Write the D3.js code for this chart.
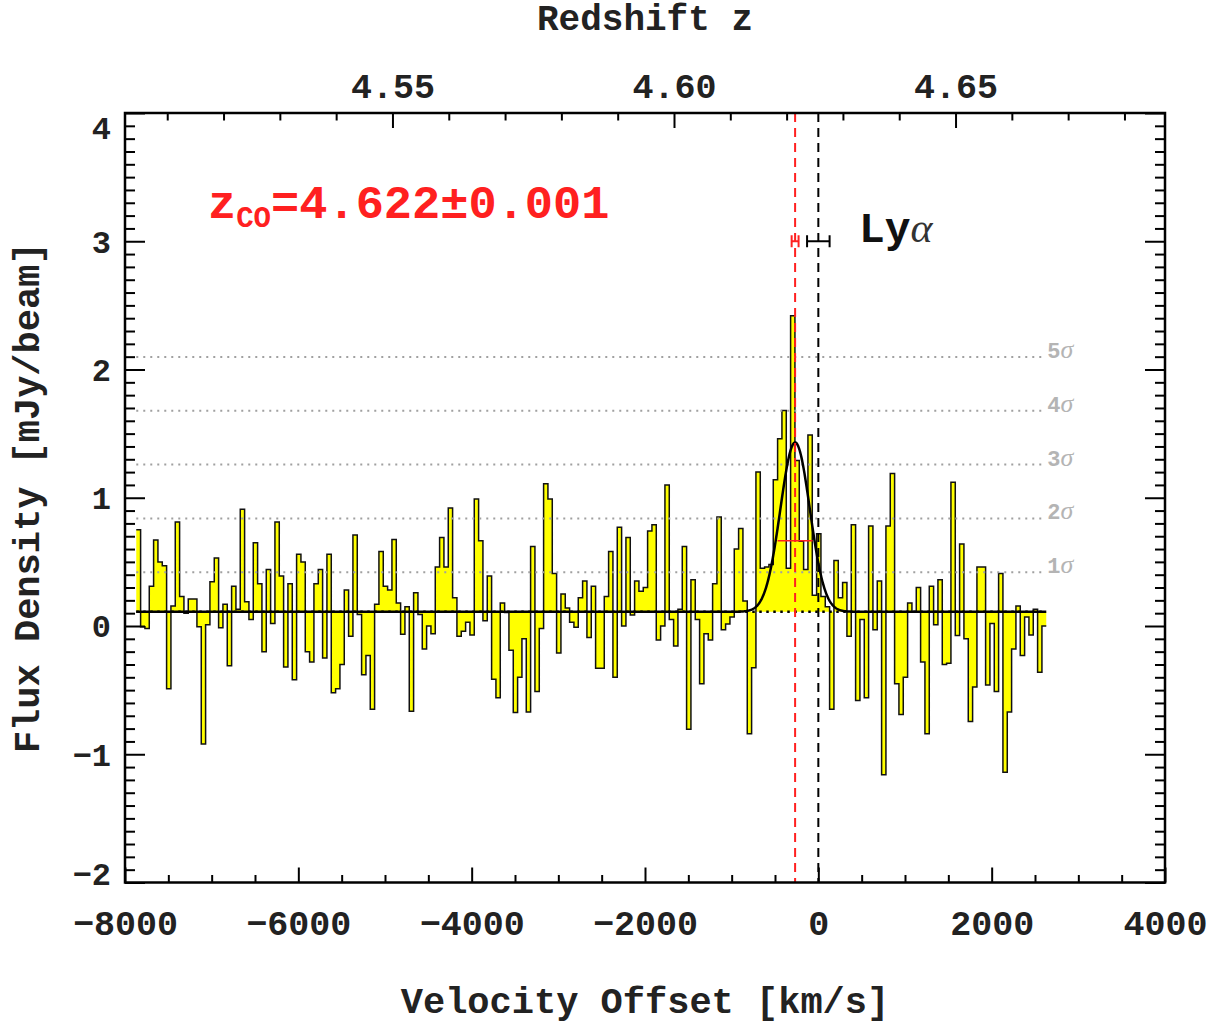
<!DOCTYPE html>
<html>
<head>
<meta charset="utf-8">
<script src="https://cdn.jsdelivr.net/npm/d3@7"></script>
<style>
  html, body { margin: 0; padding: 0; background: #fff; }
  svg { display: block; }
</style>
</head>
<body>
<svg id="chart" width="1226" height="1026"></svg>
<script>
// ---------------- DATA ----------------
// spectrum: flux density (mJy/beam) per 50 km/s channel
const binStart = -7870;      // km/s, left edge of first channel
const binWidth = 50;         // km/s
const flux = [
  0.75,-0.005,-0.02,0.31,0.67,0.50,0.47,-0.49,0.156,0.81,
  0.23,0.10,0.21,0.21,-0.005,-0.92,0.01,0.345,0.53,-0.013,
  0.17,-0.31,0.31,0.13,0.91,0.19,0.05,0.65,0.33,-0.20,
  0.44,0.02,0.81,0.39,-0.32,0.33,-0.42,0.56,0.50,-0.20,
  -0.28,0.33,0.44,-0.25,0.56,-0.52,-0.49,-0.30,0.28,-0.08,
  0.71,0.09,-0.38,-0.23,-0.65,0.17,0.58,0.31,0.28,0.675,
  0.18,-0.065,0.15,-0.665,0.26,0.09,-0.18,0.00,-0.06,0.46,
  0.69,0.46,0.92,0.22,-0.08,-0.04,0.03,-0.07,0.99,0.665,
  0.04,0.39,-0.415,-0.56,0.18,0.105,-0.19,-0.675,-0.40,-0.10,
  -0.67,0.62,-0.51,-0.02,1.11,0.99,0.41,-0.21,0.25,0.14,
  0.03,-0.01,0.22,0.35,-0.09,0.31,-0.33,-0.33,0.23,0.58,
  -0.40,0.77,0.00,0.69,0.085,0.35,0.27,0.30,0.74,0.79,
  -0.11,0.00,1.10,0.05,-0.155,0.13,0.62,-0.805,0.36,0.05,
  -0.45,-0.06,-0.11,0.33,0.85,-0.03,0.015,0.07,0.60,0.76,
  0.195,-0.84,-0.325,1.20,0.45,0.46,0.48,1.14,1.46,1.68,
  0.45,2.42,1.29,0.66,0.44,1.49,0.24,0.72,0.23,0.15,
  -0.65,0.51,0.22,0.34,-0.08,0.79,-0.58,0.05,-0.56,0.78,
  -0.03,0.35,-1.16,0.78,1.19,-0.45,-0.69,-0.40,0.18,0.11,
  0.30,-0.28,-0.84,0.31,0.01,0.36,-0.30,-0.29,1.12,-0.075,
  0.64,-0.10,-0.745,-0.475,0.46,0.46,-0.46,0.02,-0.51,0.41,
  -1.14,-0.67,-0.18,0.155,-0.23,0.07,-0.07,0.13,-0.36,0.00
];

// Gaussian fit parameters
const continuum = 0.111;     // mJy/beam
const gaussAmp = 1.32;       // mJy/beam above continuum
const gaussCenter = -268;    // km/s
const gaussSigma = 170;      // km/s
const fwhm = 404;            // km/s
const fwhmLevel = 0.665;     // mJy/beam (red half-width bar)

// noise levels
const rms = 0.4195;
const sigmaLevels = [1, 2, 3, 4, 5];

// redshift markers (velocity, error half-width, flux level)
const coMarker = { v: -268, err: 40, y: 3 };
const lyaMarker = { v: 0, err: 130, y: 3 };

// axes
const velDomain = [-8000, 4000];
const fluxDomain = [-2, 4];
const velTicks = [-8000, -6000, -4000, -2000, 0, 2000, 4000];
const velMinorStep = 500;
const fluxTicks = [-2, -1, 0, 1, 2, 3, 4];
const fluxMinorStep = 0.1;
const zDomain = [4.5025, 4.6872];
const zTicks = [4.55, 4.60, 4.65];
const zTickLabels = ["4.55", "4.60", "4.65"];
const zMinorStep = 0.01;

// ---------------- LAYOUT ----------------
const L = 125, R = 1165, T = 113, B = 882.5;
const svg = d3.select("#chart");

const x = d3.scaleLinear().domain(velDomain).range([L, R]);
const y = d3.scaleLinear().domain(fluxDomain).range([B, T]);
const xz = d3.scaleLinear().domain(zDomain).range([L, R]);

const monoFont = "'Liberation Mono', 'DejaVu Sans Mono', monospace";
const serifFont = "'Liberation Serif', 'DejaVu Serif', serif";
const red = "#ff2020";

// ---------------- HISTOGRAM ----------------
const pts = flux.map((f, i) => ({ v: binStart + i * binWidth, f }));
pts.push({ v: binStart + flux.length * binWidth, f: flux[flux.length - 1] });

const area = d3.area()
  .curve(d3.curveStepAfter)
  .x(d => x(d.v))
  .y0(y(continuum))
  .y1(d => y(d.f));
svg.append("path").datum(pts)
  .attr("d", area)
  .attr("fill", "#ffff00")
  .attr("stroke", "none");

const step = d3.line().curve(d3.curveStepAfter).x(d => x(d.v)).y(d => y(d.f));
svg.append("path").datum(pts)
  .attr("d", step)
  .attr("fill", "none")
  .attr("stroke", "#111")
  .attr("stroke-width", 1.5);

// ---------------- SIGMA LINES ----------------
const vStart = binStart, vEnd = binStart + flux.length * binWidth;
sigmaLevels.forEach(n => {
  svg.append("line")
    .attr("x1", x(vStart)).attr("x2", x(vEnd))
    .attr("y1", y(n * rms)).attr("y2", y(n * rms))
    .attr("stroke", "#a0a0a0").attr("stroke-width", 2)
    .attr("stroke-dasharray", "2,5");
  const t = svg.append("text")
    .attr("x", x(vEnd) + 1).attr("y", y(n * rms) + 1)
    .attr("fill", "#b4b4b4");
  t.append("tspan").attr("font-family", monoFont).attr("font-weight", "bold")
    .attr("font-size", 22).text(n);
  t.append("tspan").attr("font-family", serifFont)
    .attr("font-style", "italic").attr("font-size", 26).text("σ");
});

// ---------------- MODEL ----------------
svg.append("line")
  .attr("x1", x(vStart)).attr("x2", x(vEnd))
  .attr("y1", y(continuum)).attr("y2", y(continuum))
  .attr("stroke", "#000").attr("stroke-width", 2.5)
  .attr("stroke-dasharray", "2.5,4.5");

const modelV = d3.range(vStart, vEnd + 1, 5);
const model = d3.line()
  .x(v => x(v))
  .y(v => y(continuum + gaussAmp * Math.exp(-((v - gaussCenter) ** 2) / (2 * gaussSigma ** 2))));
svg.append("path").datum(modelV)
  .attr("d", model)
  .attr("fill", "none").attr("stroke", "#000").attr("stroke-width", 2.5);

// FWHM bar
svg.append("line")
  .attr("x1", x(gaussCenter - fwhm / 2)).attr("x2", x(gaussCenter + fwhm / 2))
  .attr("y1", y(fwhmLevel)).attr("y2", y(fwhmLevel))
  .attr("stroke", red).attr("stroke-width", 1.5);

// dashed vertical lines
svg.append("line")
  .attr("x1", x(coMarker.v)).attr("x2", x(coMarker.v))
  .attr("y1", T).attr("y2", B)
  .attr("stroke", red).attr("stroke-width", 2).attr("stroke-dasharray", "9,6");
svg.append("line")
  .attr("x1", x(lyaMarker.v)).attr("x2", x(lyaMarker.v))
  .attr("y1", T).attr("y2", B)
  .attr("stroke", "#000").attr("stroke-width", 2).attr("stroke-dasharray", "9,6");

// error bars
function errBar(m, color) {
  const g = svg.append("g").attr("stroke", color).attr("stroke-width", 2);
  g.append("line").attr("x1", x(m.v - m.err)).attr("x2", x(m.v + m.err))
    .attr("y1", y(m.y)).attr("y2", y(m.y));
  [m.v - m.err, m.v + m.err].forEach(v => {
    g.append("line").attr("x1", x(v)).attr("x2", x(v))
      .attr("y1", y(m.y) - 6).attr("y2", y(m.y) + 6);
  });
}
errBar(coMarker, red);
errBar(lyaMarker, "#000");

// ---------------- TEXT ----------------
const zco = svg.append("text").attr("x", 208).attr("y", 218)
  .attr("fill", red).attr("font-family", monoFont).attr("font-weight", "bold");
zco.append("tspan").attr("font-size", 47).text("z");
zco.append("tspan").attr("font-size", 29).attr("dy", 9).text("CO");
zco.append("tspan").attr("font-size", 47).attr("dy", -9).text("=4.622±0.001");

const lya = svg.append("text").attr("x", 859).attr("y", 242).attr("fill", "#111");
lya.append("tspan").attr("font-family", monoFont).attr("font-weight", "bold")
  .attr("font-size", 43).text("Ly");
lya.append("tspan").attr("font-family", serifFont)
  .attr("font-style", "italic").attr("font-size", 42).attr("fill", "#333").text("α");

// ---------------- AXES ----------------
function styleAxis(g) {
  g.select(".domain").remove();
  g.selectAll(".tick line").attr("stroke", "#000").attr("stroke-width", 2);
  g.selectAll(".tick text").attr("fill", "#222")
    .attr("font-family", monoFont).attr("font-weight", "bold");
}
const velMinor = d3.range(velDomain[0], velDomain[1] + 1, velMinorStep).filter(v => !velTicks.includes(v));
const fluxMinor = d3.range(-20, 41).map(k => k * fluxMinorStep).filter(v => Math.abs(v - Math.round(v)) > 1e-6);
const zMinor = d3.range(451, 469).map(k => k * zMinorStep).filter(z => !zTicks.some(t => Math.abs(t - z) < 1e-6));

// bottom
svg.append("g").attr("transform", `translate(0,${B})`)
  .call(d3.axisBottom(x).tickValues(velTicks).tickSize(-15).tickPadding(27.5).tickFormat(d3.format("d")))
  .call(styleAxis)
  .call(g => g.selectAll(".tick text").attr("font-size", 35));
svg.append("g").attr("transform", `translate(0,${B})`)
  .call(d3.axisBottom(x).tickValues(velMinor).tickSize(-7.5).tickFormat(""))
  .call(styleAxis);
// top
svg.append("g").attr("transform", `translate(0,${T})`)
  .call(d3.axisTop(xz).tickValues(zTicks).tickSize(-15).tickPadding(15)
    .tickFormat((d, i) => zTickLabels[i]))
  .call(styleAxis)
  .call(g => g.selectAll(".tick text").attr("font-size", 35));
svg.append("g").attr("transform", `translate(0,${T})`)
  .call(d3.axisTop(xz).tickValues(zMinor).tickSize(-7.5).tickFormat(""))
  .call(styleAxis);
// left
svg.append("g").attr("transform", `translate(${L},0)`)
  .call(d3.axisLeft(y).tickValues(fluxTicks).tickSize(-20).tickPadding(14).tickFormat(d3.format("d")))
  .call(styleAxis)
  .call(g => g.selectAll(".tick text").attr("font-size", 32)
    .attr("dy", d => d === 4 ? "0.8em" : (d === -2 ? "0.05em" : "0.34em")));
svg.append("g").attr("transform", `translate(${L},0)`)
  .call(d3.axisLeft(y).tickValues(fluxMinor).tickSize(-10).tickFormat(""))
  .call(styleAxis);
// right
svg.append("g").attr("transform", `translate(${R},0)`)
  .call(d3.axisRight(y).tickValues(fluxTicks).tickSize(-20).tickFormat(""))
  .call(styleAxis);
svg.append("g").attr("transform", `translate(${R},0)`)
  .call(d3.axisRight(y).tickValues(fluxMinor).tickSize(-10).tickFormat(""))
  .call(styleAxis);

// frame
svg.append("rect").attr("x", L).attr("y", T).attr("width", R - L).attr("height", B - T)
  .attr("fill", "none").attr("stroke", "#000").attr("stroke-width", 2.5);

// axis titles
svg.append("text").attr("x", (L + R) / 2).attr("y", 1013)
  .attr("text-anchor", "middle").attr("font-family", monoFont).attr("font-weight", "bold")
  .attr("font-size", 37).attr("fill", "#222").text("Velocity Offset [km/s]");
svg.append("text").attr("x", (L + R) / 2).attr("y", 30)
  .attr("text-anchor", "middle").attr("font-family", monoFont).attr("font-weight", "bold")
  .attr("font-size", 36).attr("fill", "#222").text("Redshift z");
svg.append("text")
  .attr("transform", `translate(39,${(T + B) / 2}) rotate(-90)`)
  .attr("text-anchor", "middle").attr("font-family", monoFont).attr("font-weight", "bold")
  .attr("font-size", 37).attr("fill", "#222").text("Flux Density [mJy/beam]");
</script>
</body>
</html>
